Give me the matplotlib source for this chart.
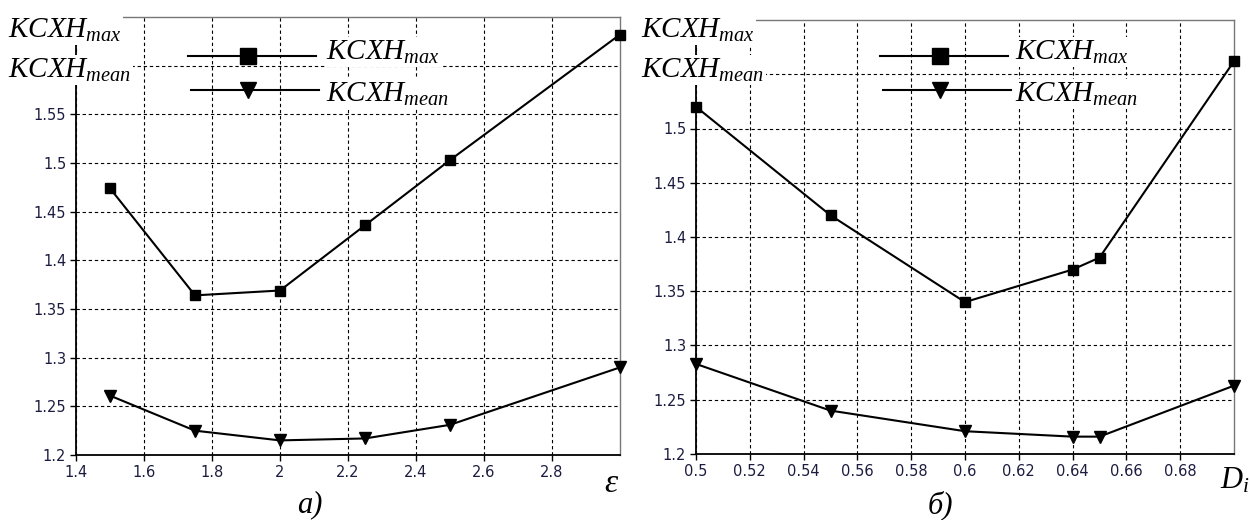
import matplotlib
matplotlib.use('Agg')
import matplotlib.pyplot as plt
from matplotlib.lines import Line2D

plt.rcParams['mathtext.fontset'] = 'custom'
plt.rcParams['mathtext.it'] = 'Liberation Serif:italic'
plt.rcParams['mathtext.rm'] = 'Liberation Serif'
plt.rcParams['mathtext.bf'] = 'Liberation Serif:bold'

# panel a): KSKhN vs epsilon
eps = [1.5, 1.75, 2.0, 2.25, 2.5, 3.0]
eps_max = [1.474, 1.364, 1.369, 1.436, 1.503, 1.632]
eps_mean = [1.261, 1.225, 1.215, 1.217, 1.231, 1.290]
eps_xticks = [1.4, 1.6, 1.8, 2.0, 2.2, 2.4, 2.6, 2.8]
eps_xlabels = ['1.4', '1.6', '1.8', '2', '2.2', '2.4', '2.6', '2.8']
eps_yticks = [1.2, 1.25, 1.3, 1.35, 1.4, 1.45, 1.5, 1.55, 1.6]
eps_ylabels = ['1.2', '1.25', '1.3', '1.35', '1.4', '1.45', '1.5', '1.55', '']

# panel б): KSKhN vs D_i
di = [0.5, 0.55, 0.6, 0.64, 0.65, 0.7]
di_max = [1.520, 1.420, 1.340, 1.370, 1.381, 1.562]
di_mean = [1.283, 1.240, 1.221, 1.216, 1.216, 1.263]
di_xticks = [0.5, 0.52, 0.54, 0.56, 0.58, 0.6, 0.62, 0.64, 0.66, 0.68]
di_xlabels = ['0.5', '0.52', '0.54', '0.56', '0.58', '0.6', '0.62', '0.64', '0.66', '0.68']
di_yticks = [1.2, 1.25, 1.3, 1.35, 1.4, 1.45, 1.5, 1.55]
di_ylabels = ['1.2', '1.25', '1.3', '1.35', '1.4', '1.45', '1.5', '']

W, H = 1250, 520
def fx(p):
    return p / W
def fy(p):
    return 1 - p / H

lbl_max = r'$\mathit{КСХН}_{max}$'
lbl_mean = r'$\mathit{КСХН}_{mean}$'
tick_col = '#1c1c40'

fig = plt.figure(figsize=(12.5, 5.2), dpi=100)
ax1 = fig.add_axes([fx(76), fy(455), (620 - 76) / W, (455 - 17) / H])
ax2 = fig.add_axes([fx(696), fy(454), (1234 - 696) / W, (454 - 20) / H])


def style(ax, xlim, ylim, xt, xl, yt, yl):
    ax.set_xlim(*xlim)
    ax.set_ylim(*ylim)
    ax.set_xticks(xt)
    ax.set_xticklabels(xl)
    ax.set_yticks(yt)
    ax.set_yticklabels(yl)
    ax.grid(True, color='black', linestyle=(0, (3, 2.5)), linewidth=0.8)
    ax.tick_params(direction='out', length=4, width=1, colors='black',
                   labelcolor=tick_col, labelsize=10.5, pad=3)
    for s in ['left', 'bottom']:
        ax.spines[s].set_color('black')
        ax.spines[s].set_linewidth(1.3)
    for s in ['top', 'right']:
        ax.spines[s].set_color('#777777')
        ax.spines[s].set_linewidth(1.0)
    ax.set_axisbelow(True)


style(ax1, (1.4, 3.0), (1.2, 1.65), eps_xticks, eps_xlabels, eps_yticks, eps_ylabels)
style(ax2, (0.5, 0.7), (1.2, 1.6), di_xticks, di_xlabels, di_yticks, di_ylabels)

for ax, x, ymax, ymean in [(ax1, eps, eps_max, eps_mean), (ax2, di, di_max, di_mean)]:
    ax.plot(x, ymax, color='black', lw=1.5, marker='s', ms=7, clip_on=False, zorder=5)
    ax.plot(x, ymean, color='black', lw=1.5, marker='v', ms=8.5, clip_on=False, zorder=5)

tfont = dict(fontsize=21, color='black')
box = dict(facecolor='white', edgecolor='none', pad=1)

# y labels in top-left corners
for x0 in [8, 641]:
    fig.text(fx(x0), fy(30), lbl_max, ha='left', va='center', bbox=box, zorder=10, **tfont)
    fig.text(fx(x0), fy(70), lbl_mean, ha='left', va='center', bbox=box, zorder=10, **tfont)

# manual legends
for x1, x2, xm, xt in [(188, 316, 248, 326), (880, 1008, 940, 1015)]:
    fig.add_artist(Line2D([fx(x1), fx(x2)], [fy(56), fy(56)], color='black', lw=1.5,
                          transform=fig.transFigure, zorder=11))
    fig.add_artist(Line2D([fx(xm)], [fy(56)], color='black', marker='s', ms=11,
                          transform=fig.transFigure, zorder=11))
    fig.add_artist(Line2D([fx(x1 + 3), fx(x2 + 3)], [fy(90), fy(90)], color='black', lw=1.5,
                          transform=fig.transFigure, zorder=11))
    fig.add_artist(Line2D([fx(xm)], [fy(90)], color='black', marker='v', ms=12,
                          transform=fig.transFigure, zorder=11))
    fig.text(fx(xt), fy(52), lbl_max, ha='left', va='center', bbox=box, zorder=12, **tfont)
    fig.text(fx(xt), fy(94), lbl_mean, ha='left', va='center', bbox=box, zorder=12, **tfont)

# axis names and panel captions
fig.text(fx(612), fy(483), r'$\varepsilon$', ha='center', va='center', fontsize=24)
fig.text(fx(1220), fy(480), r'$D_i$', ha='left', va='center', fontsize=22)
fig.text(fx(310), fy(505), 'а)', ha='center', va='center', fontsize=22,
         family='Liberation Serif', style='italic')
fig.text(fx(940), fy(505), 'б)', ha='center', va='center', fontsize=22,
         family='Liberation Serif', style='italic')

fig.savefig('out.png', dpi=100)
